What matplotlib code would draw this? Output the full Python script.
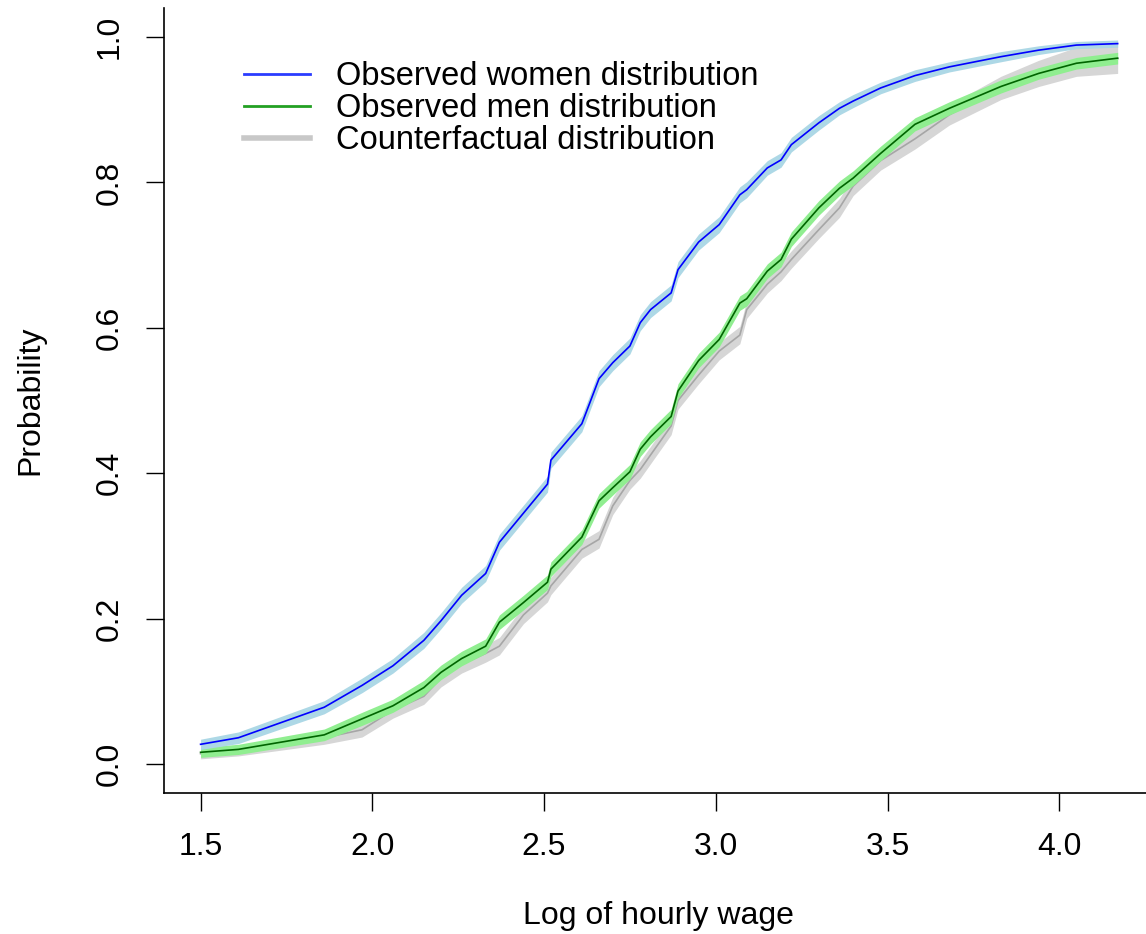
import matplotlib

matplotlib.use("Agg")
import matplotlib.pyplot as plt
from matplotlib.lines import Line2D
import numpy as np

# log hourly wage grid
log_wage = [1.50, 1.61, 1.86, 1.97, 2.06, 2.15, 2.20, 2.26, 2.33, 2.37,
            2.44, 2.51, 2.52, 2.61, 2.66, 2.70, 2.75, 2.78, 2.81, 2.87,
            2.89, 2.95, 3.01, 3.07, 3.09, 3.15, 3.19, 3.22, 3.30, 3.36,
            3.40, 3.48, 3.58, 3.68, 3.83, 3.94, 4.05, 4.17]

women_cdf = [0.027, 0.036, 0.078, 0.108, 0.135, 0.170, 0.197, 0.232, 0.262, 0.305,
             0.345, 0.385, 0.418, 0.468, 0.530, 0.552, 0.575, 0.607, 0.625, 0.648,
             0.680, 0.718, 0.742, 0.783, 0.790, 0.820, 0.831, 0.852, 0.882, 0.902,
             0.912, 0.930, 0.947, 0.959, 0.973, 0.982, 0.989, 0.991]

men_cdf = [0.016, 0.020, 0.040, 0.062, 0.080, 0.105, 0.126, 0.145, 0.162, 0.195,
           0.222, 0.250, 0.268, 0.312, 0.362, 0.380, 0.402, 0.433, 0.450, 0.478,
           0.513, 0.555, 0.584, 0.634, 0.640, 0.678, 0.694, 0.722, 0.765, 0.792,
           0.806, 0.840, 0.880, 0.902, 0.932, 0.950, 0.964, 0.971]

counter_cdf = [0.014, 0.018, 0.036, 0.047, 0.074, 0.093, 0.118, 0.137, 0.152, 0.162,
               0.205, 0.235, 0.245, 0.295, 0.309, 0.355, 0.390, 0.405, 0.425, 0.465,
               0.500, 0.535, 0.568, 0.590, 0.625, 0.660, 0.677, 0.694, 0.735, 0.765,
               0.795, 0.830, 0.860, 0.893, 0.930, 0.950, 0.966, 0.970]

# confidence band half widths
women_hw = [0.007, 0.008, 0.009, 0.010, 0.010, 0.011, 0.011, 0.011, 0.011, 0.011,
            0.011, 0.011, 0.011, 0.011, 0.011, 0.011, 0.011, 0.011, 0.011, 0.011,
            0.011, 0.011, 0.011, 0.011, 0.011, 0.010, 0.010, 0.010, 0.010, 0.009,
            0.009, 0.008, 0.008, 0.007, 0.007, 0.006, 0.005, 0.005]
men_hw = [0.007, 0.007, 0.008, 0.009, 0.009, 0.010, 0.010, 0.010, 0.010, 0.010,
          0.010, 0.010, 0.010, 0.010, 0.010, 0.010, 0.010, 0.010, 0.010, 0.010,
          0.010, 0.010, 0.010, 0.010, 0.010, 0.010, 0.010, 0.010, 0.010, 0.010,
          0.010, 0.010, 0.009, 0.009, 0.009, 0.008, 0.008, 0.008]
counter_hw = [0.007, 0.007, 0.009, 0.010, 0.011, 0.011, 0.012, 0.012, 0.012, 0.012,
              0.012, 0.012, 0.012, 0.012, 0.012, 0.012, 0.012, 0.012, 0.012, 0.012,
              0.012, 0.012, 0.012, 0.012, 0.012, 0.012, 0.012, 0.012, 0.012, 0.013,
              0.013, 0.013, 0.014, 0.014, 0.016, 0.018, 0.020, 0.020]

labels = ["Observed women distribution", "Observed men distribution",
          "Counterfactual distribution"]
x_ticks = [1.5, 2.0, 2.5, 3.0, 3.5, 4.0]
y_ticks = [0.0, 0.2, 0.4, 0.6, 0.8, 1.0]

plt.rcParams["font.family"] = ["Liberation Sans", "DejaVu Sans"]

fig = plt.figure(figsize=(11.46, 9.34), dpi=100)
ax = fig.add_axes([164 / 1146, 1 - 793 / 934, (1152 - 164) / 1146, (793 - 8) / 934])

x = np.array(log_wage)
series = [
    (counter_cdf, counter_hw, "#a6a6a6", "#d6d6d6", 1),
    (men_cdf, men_hw, "#006400", "#90ee90", 2),
    (women_cdf, women_hw, "#0000ff", "#add8e6", 3),
]
for y, hw, line_col, band_col, z in series:
    y = np.array(y)
    hw = np.array(hw)
    ax.fill_between(x, y - hw, y + hw, color=band_col, lw=0, zorder=z)
    ax.plot(x, y, color=line_col, lw=1.2, zorder=z + 0.5)

ax.set_xlim(1.3935, 4.27)
ax.set_ylim(-0.04, 1.04)
ax.spines["top"].set_visible(False)
ax.spines["right"].set_visible(False)
for s in ["left", "bottom"]:
    ax.spines[s].set_linewidth(1.2)

ax.set_xticks(x_ticks)
ax.set_xticklabels([f"{v:.1f}" for v in x_ticks], fontsize=23)
ax.set_yticks(y_ticks)
ax.set_yticklabels([f"{v:.1f}" for v in y_ticks], fontsize=23,
                   rotation=90, va="center")
ax.tick_params(axis="both", length=13, width=1.0, direction="out")
ax.tick_params(axis="x", pad=15)
ax.tick_params(axis="y", pad=15)

ax.set_xlabel("Log of hourly wage", fontsize=23, labelpad=28)
ax.set_ylabel("Probability", fontsize=23, labelpad=36)

handles = [
    Line2D([], [], color="#2a3cff", lw=2),
    Line2D([], [], color="#22a022", lw=2),
    Line2D([], [], color="#c8c8c8", lw=4),
]
ax.legend(handles, labels, loc="upper left", bbox_to_anchor=(228 / 1146, 1 - 45 / 934),
          bbox_transform=fig.transFigure, frameon=False, fontsize=23.5,
          handlelength=2.0, handletextpad=0.8, labelspacing=0.03, borderpad=0)

fig.savefig("out.png", dpi=100)
